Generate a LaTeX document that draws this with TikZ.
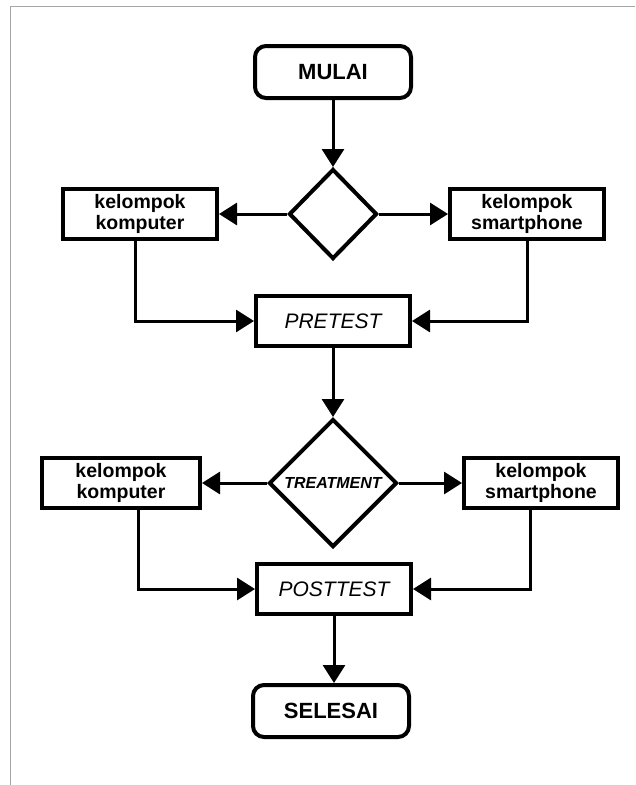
\documentclass[tikz,border=0pt]{standalone}
\usepackage{fontspec}
\setmainfont{Liberation Sans}
\usetikzlibrary{shapes.geometric,arrows.meta}
\begin{document}
\begin{tikzpicture}[x=1pt,y=-1pt,
  startend/.style={draw,line width=4pt,rounded corners=11pt,minimum width=156pt,minimum height=52pt,inner sep=0pt,font=\bfseries\fontsize{22}{24}\selectfont},
  procbox/.style={draw,line width=4pt,minimum width=154pt,minimum height=50pt,inner sep=0pt,align=center,font=\bfseries\fontsize{19.5}{21.5}\selectfont},
  testbox/.style={draw,line width=4pt,minimum width=154pt,minimum height=50pt,inner sep=0pt,font=\itshape\fontsize{21}{24}\selectfont},
  decision/.style={draw,diamond,line width=4pt,inner sep=0pt},
  flow/.style={line width=3pt,-{Triangle[length=18pt,width=22pt]}},
  framebd/.style={draw=black!35,line width=1.5pt}
]
\useasboundingbox (0,0) rectangle (635,785);
\draw[framebd] (10.5,785) -- (10.5,6.5) -- (635,6.5);

\node[startend] (mulai) at (333,72) {MULAI};
\node[decision,minimum width=88pt,minimum height=90pt] (d1) at (333,214) {};
\node[procbox] (k1) at (140,214) {kelompok\\komputer};
\node[procbox] (s1) at (527,214) {kelompok\\smartphone};
\node[testbox] (pre) at (333,321) {PRETEST};
\node[decision,minimum width=128pt,minimum height=128pt] (d2) at (333,483) {};
\node[font=\bfseries\itshape\fontsize{16}{18}\selectfont,inner sep=0pt] (t2) at (333,483) {TREATMENT};
\node[procbox,minimum width=158pt] (k2) at (121,483) {kelompok\\komputer};
\node[procbox] (s2) at (541,483) {kelompok\\smartphone};
\node[testbox] (post) at (334,589) {POSTTEST};
\node[startend] (selesai) at (331,711) {SELESAI};

\draw[flow] (mulai.south) -- (d1.north);
\draw[flow] (d1.west) -- (k1.east);
\draw[flow] (d1.east) -- (s1.east -| s1.west);
\draw[flow] (k1.south -| 135,0) |- (pre.west);
\draw[flow] (s1.south) |- (pre.east);
\draw[flow] (pre.south) -- (d2.north);
\draw[flow] (d2.west) -- (k2.east);
\draw[flow] (d2.east) -- (s2.west);
\draw[flow] (k2.south -| 138,0) |- (post.west);
\draw[flow] (s2.south -| 530,0) |- (post.east);
\draw[flow] (post.south) -- (selesai.north -| post.south);
\end{tikzpicture}
\end{document}
